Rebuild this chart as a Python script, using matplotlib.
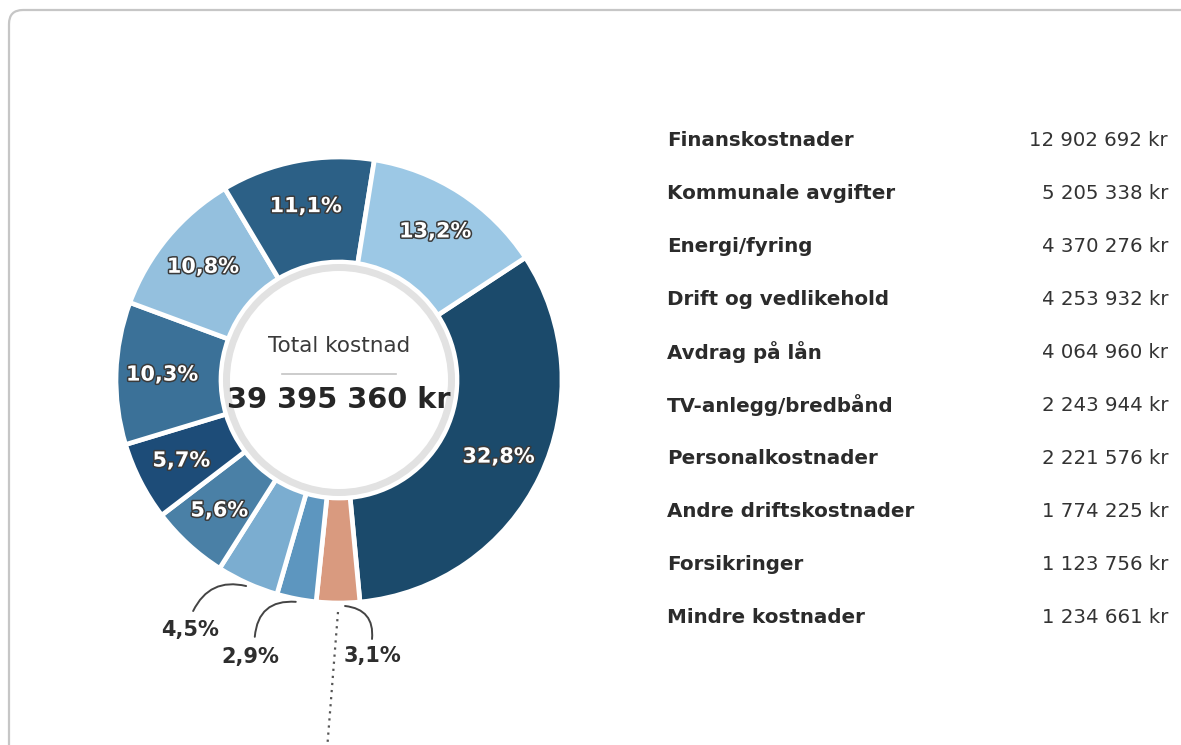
import numpy as np
import matplotlib
matplotlib.use('Agg')
import matplotlib.pyplot as plt
import matplotlib.patheffects as pe
from matplotlib.patches import Circle, FancyBboxPatch

# legend order
names = ['Finanskostnader', 'Kommunale avgifter', 'Energi/fyring',
         'Drift og vedlikehold', 'Avdrag på lån', 'TV-anlegg/bredbånd',
         'Personalkostnader', 'Andre driftskostnader', 'Forsikringer',
         'Mindre kostnader']
values = [12902692, 5205338, 4370276, 4253932, 4064960, 2243944,
          2221576, 1774225, 1123756, 1234661]
colors = ['#1b4a6b', '#9cc8e5', '#2c6086', '#94c0de', '#3b7198',
          '#1d4c78', '#4a80a6', '#7badd0', '#5d96bf', '#d99a7f']
# order of the slices, clockwise
ring_order = [0, 9, 8, 7, 6, 5, 4, 3, 2, 1]

total = sum(values)


def kr(v):
    return '{:,}'.format(v).replace(',', ' ') + ' kr'


def pct(v):
    return ('%.1f' % (100.0 * v / total)).replace('.', ',') + '%'


W, H = 1181, 745
fig = plt.figure(figsize=(W / 100., H / 100.), dpi=100)
ax = fig.add_axes([0, 0, 1, 1])

cx, cy = 339, 365
r_out, r_in = 223, 118

wedges, _ = ax.pie([values[i] for i in ring_order],
                   colors=[colors[i] for i in ring_order],
                   startangle=33.3, counterclock=False,
                   center=(cx, cy), radius=r_out,
                   wedgeprops=dict(width=r_out - r_in, edgecolor='white',
                                   linewidth=3.4))

# inner ring + white hole
ax.add_patch(Circle((cx, cy), 116, fc='#e2e2e2', ec='none', zorder=3))
ax.add_patch(Circle((cx, cy), 109, fc='white', ec='none', zorder=4))

ax.text(cx, cy + 34, 'Total kostnad', ha='center', va='center',
        fontsize=15.5, color='#3a3a3a', zorder=5)
ax.plot([cx - 57, cx + 57], [cy + 6, cy + 6], color='#c4c4c4', lw=1.2,
        zorder=5)
ax.text(cx, cy - 20, kr(total), ha='center', va='center', fontsize=20.8,
        fontweight='bold', color='#262626', zorder=5)

outline = [pe.withStroke(linewidth=2.2, foreground='#3a3a3a')]
# small slices: leader end offset, text offset (from the outer edge), curvature
outside = {7: (-53, -25, -56, -44, -0.4),
           8: (-41, -35, -45, -55, -0.49),
           9: (27, -33, 27, -50, 0.49)}

for w, idx in zip(wedges, ring_order):
    mid = np.deg2rad((w.theta1 + w.theta2) / 2.0)
    if idx in outside:
        ldx, ldy, tdx, tdy, rad = outside[idx]
        ex = cx + (r_out + 3) * np.cos(mid)
        ey = cy + (r_out + 3) * np.sin(mid)
        if idx == 9:
            ex += 7
        ax.annotate('', xy=(ex, ey), xytext=(ex + ldx, ey + ldy),
                    arrowprops=dict(arrowstyle='-', color='#444444', lw=1.4,
                                    shrinkA=0, shrinkB=0,
                                    connectionstyle='arc3,rad=%s' % rad),
                    zorder=6)
        ax.text(ex + tdx, ey + tdy, pct(values[idx]), ha='center',
                va='center', fontsize=15, fontweight='bold', color='#2e2e2e')
    else:
        tx = cx + 177 * np.cos(mid)
        ty = cy + 177 * np.sin(mid)
        t = ax.text(tx, ty, pct(values[idx]), ha='center', va='center',
                    fontsize=15, fontweight='bold', color='white', zorder=6)
        t.set_path_effects(outline)

# dotted line below the orange slice
wm = wedges[1]
mid = np.deg2rad((wm.theta1 + wm.theta2) / 2.0)
sx = cx + (r_out + 9) * np.cos(mid)
sy = cy + (r_out + 9) * np.sin(mid)
ax.plot([sx, sx - 11], [sy, -5], color='#555555', lw=1.6, ls=(0, (1, 2.2)))

# list on the right
row_y = H - 140
for name, v in zip(names, values):
    ax.text(667, row_y, name, ha='left', va='center', fontsize=14.3,
            fontweight='bold', color='#2b2b2b')
    ax.text(1168, row_y, kr(v), ha='right', va='center', fontsize=14.2,
            color='#333333')
    row_y -= 53.1

# card frame
ax.add_patch(FancyBboxPatch((9, -40), 1300, H - 10 + 40,
                            boxstyle='round,pad=0,rounding_size=14',
                            fc='none', ec='#c6c6c6', lw=1.6, zorder=0))

ax.set_xlim(0, W)
ax.set_ylim(0, H)
ax.set_aspect('equal')
ax.axis('off')

fig.savefig('out.png', dpi=100)
